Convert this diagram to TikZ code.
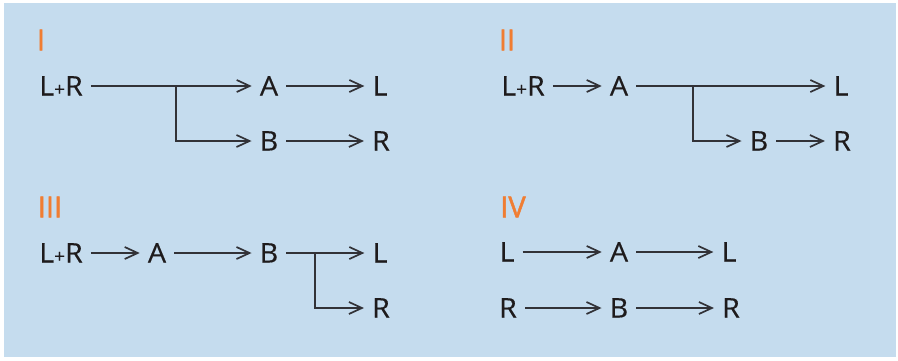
\documentclass[tikz,border=0pt]{standalone}
\usepackage{fontspec}
\setmainfont{Open Sans}
\newfontfamily\casefont[FakeBold=1.6]{Open Sans}
\newfontfamily\speciesfont[FakeBold=0.4, FakeStretch=1.06]{Open Sans}
\usepackage{xcolor}
\usepackage{tikz}
\usetikzlibrary{arrows.meta, positioning}
\definecolor{panelblue}{RGB}{197,220,238}
\definecolor{caseorange}{RGB}{240,125,50}
\definecolor{inkgray}{RGB}{50,50,55}
\definecolor{textblack}{RGB}{30,27,28}
\tikzset{
  sp/.style={inner sep=0pt, inner xsep=8pt, text height=19pt, text depth=0pt, font=\speciesfont\fontsize{27}{27}\selectfont, text=textblack},
  caselabel/.style={inner sep=0pt, font=\casefont\fontsize{29}{29}\selectfont, text=caseorange},
  arrow/.style={line width=1.7pt, draw=inkgray, -{Straight Barb[length=13pt, width=12pt, line width=1.7pt]}},
  branch/.style={line width=1.7pt, draw=inkgray, -{Straight Barb[length=13pt, width=12pt, line width=1.7pt]}}
}
\newcommand{\lr}{L{\fontsize{18}{18}\selectfont+}R}
\begin{document}
\begin{tikzpicture}[x=1pt, y=-1pt]
\useasboundingbox (0,0) rectangle (898,360);
\fill[white] (0,0) rectangle (898,360);
\fill[panelblue] (4,3) rectangle (896,357);

% case I
\node[caselabel] (c1) at (41,40) {I};
\node[sp] (lr1) at (61,86) {\lr};
\node[sp] (a1) at (269,86) {A};
\node[sp] (l1) at (380,86) {L};
\node[sp] (b1) at (269,141) {B};
\node[sp] (r1) at (381,141) {R};
\coordinate (s1) at (176,86);
\draw[arrow] (lr1) -- (a1);
\draw[branch] (s1) |- (b1);
\draw[arrow] (a1) -- (l1);
\draw[arrow] (b1) -- (r1);

% case II
\node[caselabel] (c2) at (507,40) {II};
\node[sp] (lr2) at (523,86) {\lr};
\node[sp] (a2) at (619,86) {A};
\node[sp] (l2) at (841,86) {L};
\node[sp] (b2) at (759,141) {B};
\node[sp] (r2) at (842,141) {R};
\coordinate (s2) at (693,86);
\draw[arrow] (lr2) -- (a2);
\draw[arrow] (a2) -- (l2);
\draw[branch] (s2) |- (b2);
\draw[arrow] (b2) -- (r2);

% case III
\node[caselabel] (c3) at (50,207) {III};
\node[sp] (lr3) at (61,253) {\lr};
\node[sp] (a3) at (157,253) {A};
\node[sp] (b3) at (269,253) {B};
\node[sp] (l3) at (380,253) {L};
\node[sp] (r3) at (381,308) {R};
\coordinate (s3) at (315,253);
\draw[arrow] (lr3) -- (a3);
\draw[arrow] (a3) -- (b3);
\draw[arrow] (b3) -- (l3);
\draw[branch] (s3) |- (r3);

% case IV
\node[caselabel] (c4) at (513,207) {IV};
\node[sp] (l4) at (507,252) {L};
\node[sp] (a4) at (619,252) {A};
\node[sp] (l4b) at (729,252) {L};
\node[sp] (r4) at (508,308) {R};
\node[sp] (b4) at (619,308) {B};
\node[sp] (r4b) at (731,308) {R};
\draw[arrow] (l4) -- (a4);
\draw[arrow] (a4) -- (l4b);
\draw[arrow] (r4) -- (b4);
\draw[arrow] (b4) -- (r4b);
\end{tikzpicture}
\end{document}
